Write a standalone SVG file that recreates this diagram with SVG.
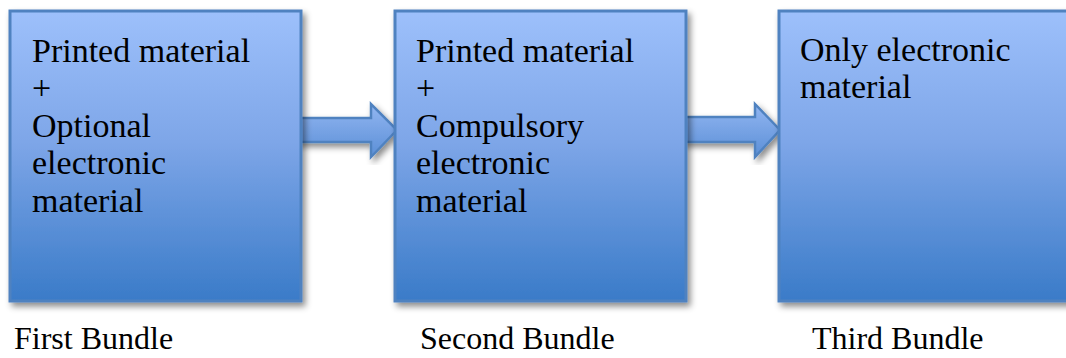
<svg xmlns="http://www.w3.org/2000/svg" width="1066" height="358" viewBox="0 0 1066 358">
  <defs>
    <linearGradient id="boxFill" x1="0" y1="0" x2="0" y2="1">
      <stop offset="0" stop-color="#9dc0fb"/>
      <stop offset="0.45" stop-color="#7ea6e8"/>
      <stop offset="1" stop-color="#3a7bc8"/>
    </linearGradient>
    <linearGradient id="arrowFill" x1="0" y1="0" x2="0" y2="1">
      <stop offset="0" stop-color="#92b6f2"/>
      <stop offset="1" stop-color="#5b8fd6"/>
    </linearGradient>
    <filter id="shadow" x="-10%" y="-10%" width="125%" height="125%">
      <feDropShadow dx="3" dy="4" stdDeviation="3" flood-color="#000" flood-opacity="0.45"/>
    </filter>
  </defs>
  <style>
    .box { fill: url(#boxFill); stroke: #4f82c0; stroke-width: 3; filter: url(#shadow); }
    .arrow { fill: url(#arrowFill); stroke: #4f82c0; stroke-width: 2.5; stroke-linejoin: miter; filter: url(#shadow); }
    .body { font-family: "Liberation Serif", "DejaVu Serif", serif; font-size: 34px; fill: #000; }
    .caption { font-family: "Liberation Serif", "DejaVu Serif", serif; font-size: 32px; fill: #000; }
  </style>

  <rect width="1066" height="358" fill="#fff"/>

  <!-- connectors -->
  <g id="connectors">
    <path class="arrow" d="M298,118 H371 V104 L397,130 L371,157 V142 H298 Z"/>
    <path class="arrow" d="M683,117 H755 V104 L780,130 L755,157 V142 H683 Z"/>
  </g>

  <g id="first-bundle">
    <rect class="box" x="10" y="11" width="291" height="290"/>
    <text class="body">
      <tspan x="32" y="62">Printed material</tspan>
      <tspan x="32" y="99">+</tspan>
      <tspan x="32" y="137">Optional</tspan>
      <tspan x="32" y="174">electronic</tspan>
      <tspan x="32" y="212">material</tspan>
    </text>
    <text class="caption" x="14" y="349">First Bundle</text>
  </g>

  <g id="second-bundle">
    <rect class="box" x="395" y="11" width="291" height="290"/>
    <text class="body">
      <tspan x="416" y="62">Printed material</tspan>
      <tspan x="416" y="99">+</tspan>
      <tspan x="416" y="137">Compulsory</tspan>
      <tspan x="416" y="174">electronic</tspan>
      <tspan x="416" y="212">material</tspan>
    </text>
    <text class="caption" x="420" y="349">Second Bundle</text>
  </g>

  <g id="third-bundle">
    <rect class="box" x="779" y="11" width="300" height="290"/>
    <text class="body">
      <tspan x="800" y="61">Only electronic</tspan>
      <tspan x="800" y="98">material</tspan>
    </text>
    <text class="caption" x="812" y="349">Third Bundle</text>
  </g>
</svg>
